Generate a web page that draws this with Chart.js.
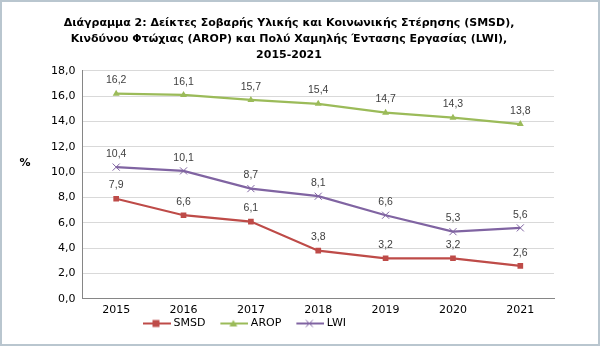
<!DOCTYPE html>
<html>
<head>
<meta charset="utf-8">
<script src="https://cdn.jsdelivr.net/npm/chart.js@4/dist/chart.umd.min.js"></script>
<style>
html,body{margin:0;padding:0;background:#fff;}
#wrap{width:600px;height:346px;position:relative;}
</style>
</head>
<body>
<div id="wrap"><canvas id="c" width="600" height="346"></canvas></div>
<script>
const categories = ['2015','2016','2017','2018','2019','2020','2021'];
const smsd = [7.9, 6.6, 6.1, 3.8, 3.2, 3.2, 2.6];
const arop = [16.2, 16.1, 15.7, 15.4, 14.7, 14.3, 13.8];
const lwi = [10.4, 10.1, 8.7, 8.1, 6.6, 5.3, 5.6];
const titleLines = [
  'Διάγραμμα 2: Δείκτες Σοβαρής Υλικής και Κοινωνικής Στέρησης (SMSD),',
  'Κινδύνου Φτώχιας (AROP) και Πολύ Χαμηλής Έντασης Εργασίας (LWI),',
  '2015-2021'
];
const yLabel = '%';

const C_SMSD = '#BE4B48', C_AROP = '#9BBB59', C_LWI = '#8064A2';
const FONT = "'DejaVu Sans', Verdana, sans-serif";

function fmt(v){ return v.toFixed(1).replace('.', ','); }

function legendIcon(color, style){
  const cv = document.createElement('canvas');
  cv.width = 46; cv.height = 10;
  const g = cv.getContext('2d');
  g.strokeStyle = color; g.lineWidth = 2;
  g.beginPath(); g.moveTo(18,5); g.lineTo(46,5); g.stroke();
  g.fillStyle = color;
  const cx = 31;
  if (style === 'rect') { g.fillRect(cx-3.5,1.5,7,7); }
  else if (style === 'triangle') { g.beginPath(); g.moveTo(cx,1.5); g.lineTo(cx+4,8); g.lineTo(cx-4,8); g.closePath(); g.fill(); }
  else { g.lineWidth = 1; g.beginPath(); g.moveTo(cx-3.5,1.5); g.lineTo(cx+3.5,8.5); g.moveTo(cx+3.5,1.5); g.lineTo(cx-3.5,8.5); g.stroke(); }
  return cv;
}

const chromePlugin = {
  id: 'chrome',
  afterLayout(chart){
    const lg = chart.legend;
    if (lg) { lg.left -= 62; lg.right -= 62; lg.top -= 4; lg.bottom -= 4; }
    const tb = chart.titleBlock;
    if (tb) { tb.left -= 10; tb.right -= 10; }
  },
  beforeDraw(chart){
    const ctx = chart.ctx;
    ctx.save();
    ctx.fillStyle = '#fff';
    ctx.fillRect(0,0,chart.width,chart.height);
    ctx.restore();
  },
  afterDraw(chart){
    const ctx = chart.ctx;
    ctx.save();
    ctx.strokeStyle = '#b9c6cf';
    ctx.lineWidth = 2;
    ctx.strokeRect(1,1,chart.width-2,chart.height-2);
    ctx.fillStyle = '#000';
    ctx.font = "bold 11px " + FONT;
    ctx.textAlign = 'center';
    ctx.textBaseline = 'middle';
    const ys = chart.scales.y;
    ctx.fillText(yLabel, 25, (ys.top + ys.bottom)/2 - 22);
    ctx.restore();
  },
  afterDatasetsDraw(chart){
    const ctx = chart.ctx;
    ctx.save();
    ctx.fillStyle = '#404040';
    ctx.font = "10.5px 'Liberation Sans', Arial, sans-serif";
    ctx.textAlign = 'center';
    ctx.textBaseline = 'bottom';
    chart.data.datasets.forEach((ds, i) => {
      const meta = chart.getDatasetMeta(i);
      meta.data.forEach((pt, j) => {
        ctx.fillText(fmt(ds.data[j]), pt.x, pt.y - 8);
      });
    });
    ctx.restore();
  }
};

new Chart(document.getElementById('c'), {
  type: 'line',
  data: {
    labels: categories,
    datasets: [
      { label: 'SMSD', data: smsd, borderColor: C_SMSD, backgroundColor: C_SMSD, borderWidth: 2.25,
        pointStyle: 'rect', pointRadius: 4, pointBorderWidth: 0, pointBackgroundColor: C_SMSD, tension: 0 },
      { label: 'AROP', data: arop, borderColor: C_AROP, backgroundColor: C_AROP, borderWidth: 2.25,
        pointStyle: 'triangle', pointRadius: 4, pointBorderWidth: 0, pointBackgroundColor: C_AROP, tension: 0 },
      { label: 'LWI', data: lwi, borderColor: C_LWI, backgroundColor: C_LWI, borderWidth: 2.25,
        pointStyle: 'cross', pointRotation: 45, pointRadius: 5, pointBorderWidth: 1, pointBorderColor: C_LWI, tension: 0 }
    ]
  },
  options: {
    responsive: false,
    animation: false,
    devicePixelRatio: 1,
    layout: { padding: { left: 44, right: 46, top: 9, bottom: 3 } },
    plugins: {
      title: { display: true, text: titleLines, color: '#000',
        font: { family: FONT, size: 11, weight: 'bold', lineHeight: 1.45 }, padding: { top: 6, bottom: 8 } },
      legend: { position: 'bottom',
        labels: { usePointStyle: true, pointStyleWidth: 40, color: '#000', font: { family: FONT, size: 11 }, boxHeight: 10, padding: 0,
          generateLabels(chart){
            const styles = ['rect','triangle','cross'];
            return chart.data.datasets.map((ds,i)=>({ text: ds.label, pointStyle: legendIcon(ds.borderColor, styles[i]),
              fillStyle: ds.borderColor, strokeStyle: ds.borderColor, lineWidth: 0, hidden: false, datasetIndex: i, fontColor: '#000' }));
          } } },
      tooltip: { enabled: false }
    },
    scales: {
      x: { offset: true,
        grid: { display: false, drawTicks: false },
        border: { display: true, color: '#868686', width: 1 },
        ticks: { color: '#000', font: { family: FONT, size: 11 }, padding: 5 } },
      y: { min: 0, max: 18,
        grid: { color: '#d9d9d9', drawTicks: false },
        border: { display: true, color: '#868686', width: 1 },
        ticks: { stepSize: 2, color: '#000', font: { family: FONT, size: 11 }, padding: 7,
          callback: v => fmt(v) } }
    }
  },
  plugins: [chromePlugin]
});
</script>
</body>
</html>
